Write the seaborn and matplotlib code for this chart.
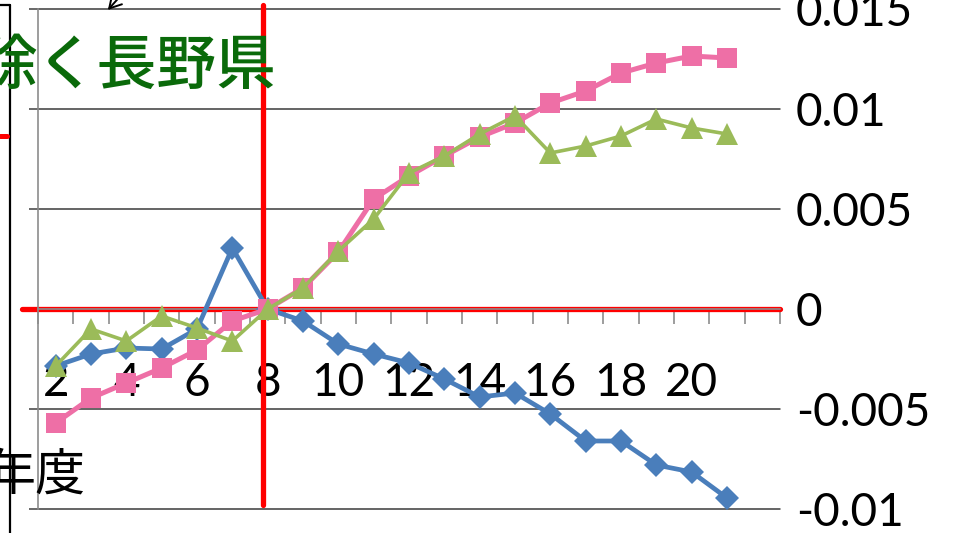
import numpy as np
import pandas as pd
import seaborn as sns
import matplotlib.pyplot as plt
from matplotlib.lines import Line2D

# data (fiscal year index vs. change)
years = list(range(2, 22))
blue_vals = [-0.00285, -0.00225, -0.00195, -0.0020, -0.0010, 0.00305, 0.0,
             -0.0006, -0.00175, -0.00225, -0.0027, -0.0035, -0.0044, -0.0042,
             -0.00525, -0.0066, -0.0066, -0.0078, -0.00815, -0.00945]
pink_vals = [-0.0057, -0.00445, -0.0037, -0.00295, -0.00205, -0.0006, 0.0,
             0.00105, 0.00285, 0.0055, 0.00665, 0.00765, 0.0086, 0.0093,
             0.0103, 0.0109, 0.0118, 0.0123, 0.01265, 0.01255]
green_vals = [-0.00285, -0.0010, -0.0016, -0.00035, -0.00095, -0.0016, 0.0,
              0.00105, 0.0029, 0.0045, 0.0068, 0.00765, 0.00875, 0.00965,
              0.0078, 0.00815, 0.00865, 0.0095, 0.00905, 0.00875]
x_tick_vals = [2, 4, 6, 8, 10, 12, 14, 16, 18, 20]
y_tick_vals = [-0.01, -0.005, 0, 0.005, 0.01, 0.015]
y_tick_labels = ["-0.01", "-0.005", "0", "0.005", "0.01", "0.015"]

sns.set_theme(style="white")
plt.rcParams['font.family'] = ['Lato', 'Noto Sans CJK JP', 'DejaVu Sans']

W, H = 957, 533
fig = plt.figure(figsize=(W / 100, H / 100), dpi=100)
ax = fig.add_axes([38 / W, 1 - 509 / H, 742 / W, 500 / H])

def px(x, y):
    return (x / W, 1 - y / H)

sns.lineplot(x=years, y=blue_vals, ax=ax, color="#4a7ebb", marker="D",
             markersize=12.5, markeredgewidth=0, linewidth=3.4, zorder=3)
sns.lineplot(x=years, y=pink_vals, ax=ax, color="#ee6fa6", marker="s",
             markersize=14.5, markeredgewidth=0, linewidth=3.6, zorder=4)
sns.lineplot(x=years, y=green_vals, ax=ax, color="#9bbb59", marker="^",
             markersize=15.5, markeredgewidth=0, linewidth=2.6, zorder=5)

ax.set_xlim(1.5, 22.5)
ax.set_ylim(-0.01, 0.015)
ax.set_xlabel("")
ax.set_ylabel("")

# x axis sits on zero
ax.spines['bottom'].set_position(('data', 0))
ax.spines['bottom'].set_color('#8c8c8c')
ax.spines['left'].set_color('#8c8c8c')
ax.spines['bottom'].set_linewidth(1.2)
ax.spines['left'].set_linewidth(1.2)
ax.spines['top'].set_visible(False)
ax.spines['right'].set_visible(False)

ax.set_xticks(x_tick_vals)
ax.set_xticklabels([str(v) for v in x_tick_vals])
ax.set_xticks(np.arange(1.5, 23, 1.0), minor=True)
ax.tick_params(axis='x', which='major', length=0, pad=38, labelsize=33,
               labelcolor='black')
ax.tick_params(axis='x', which='minor', bottom=True, direction='out',
               length=11, width=1.2, color='#8c8c8c')

ax.set_yticks(y_tick_vals)
ax.set_yticklabels(y_tick_labels)
ax.tick_params(axis='y', left=True, right=False, labelleft=False,
               labelright=True, direction='out', length=6.5, width=1.1,
               color='#404040', pad=5, labelsize=33, labelcolor='black')
for lab in ax.get_yticklabels():
    lab.set_verticalalignment('center_baseline')

ax.yaxis.grid(True, color='#3a3a3a', linewidth=1.1)
ax.xaxis.grid(False)
for gl in ax.get_ygridlines():
    gl.set_clip_on(False)

# red reference lines
ax.axhline(0, xmin=-16 / 742, xmax=1.0, color='red', linewidth=3.8,
           clip_on=False, zorder=2)
ax.axvline(7.87, ymin=4 / 500, ymax=504 / 500, color='red', linewidth=3.8,
           clip_on=False, zorder=2)

# fragments of the surrounding slide
fig.add_artist(Line2D([px(10, 0)[0], px(10, 0)[0]], [px(0, 5)[1], 0],
                      color='black', linewidth=1.6))
fig.add_artist(Line2D([0, px(10, 0)[0]], [px(0, 5)[1], px(0, 5)[1]],
                      color='black', linewidth=1.6))
fig.add_artist(Line2D([0, px(7, 0)[0]], [px(0, 136)[1], px(0, 136)[1]],
                      color='red', linewidth=3.6))
ax.annotate("", xy=px(106, 12), xycoords='figure fraction',
            xytext=px(124, -8), textcoords='figure fraction',
            arrowprops=dict(arrowstyle='->,head_length=0.7,head_width=0.4',
                            color='black', lw=1.4))

fig.text(*px(276, 66), "除く長野県", ha='right', va='center', fontsize=43,
         color='#0a6a0a', fontweight='medium',
         family=['Noto Sans CJK JP', 'DejaVu Sans'])
fig.text(*px(86, 476), "年度", ha='right', va='center', fontsize=36,
         color='black', family=['Noto Sans CJK JP', 'DejaVu Sans'])

fig.savefig("out.png", dpi=100)
